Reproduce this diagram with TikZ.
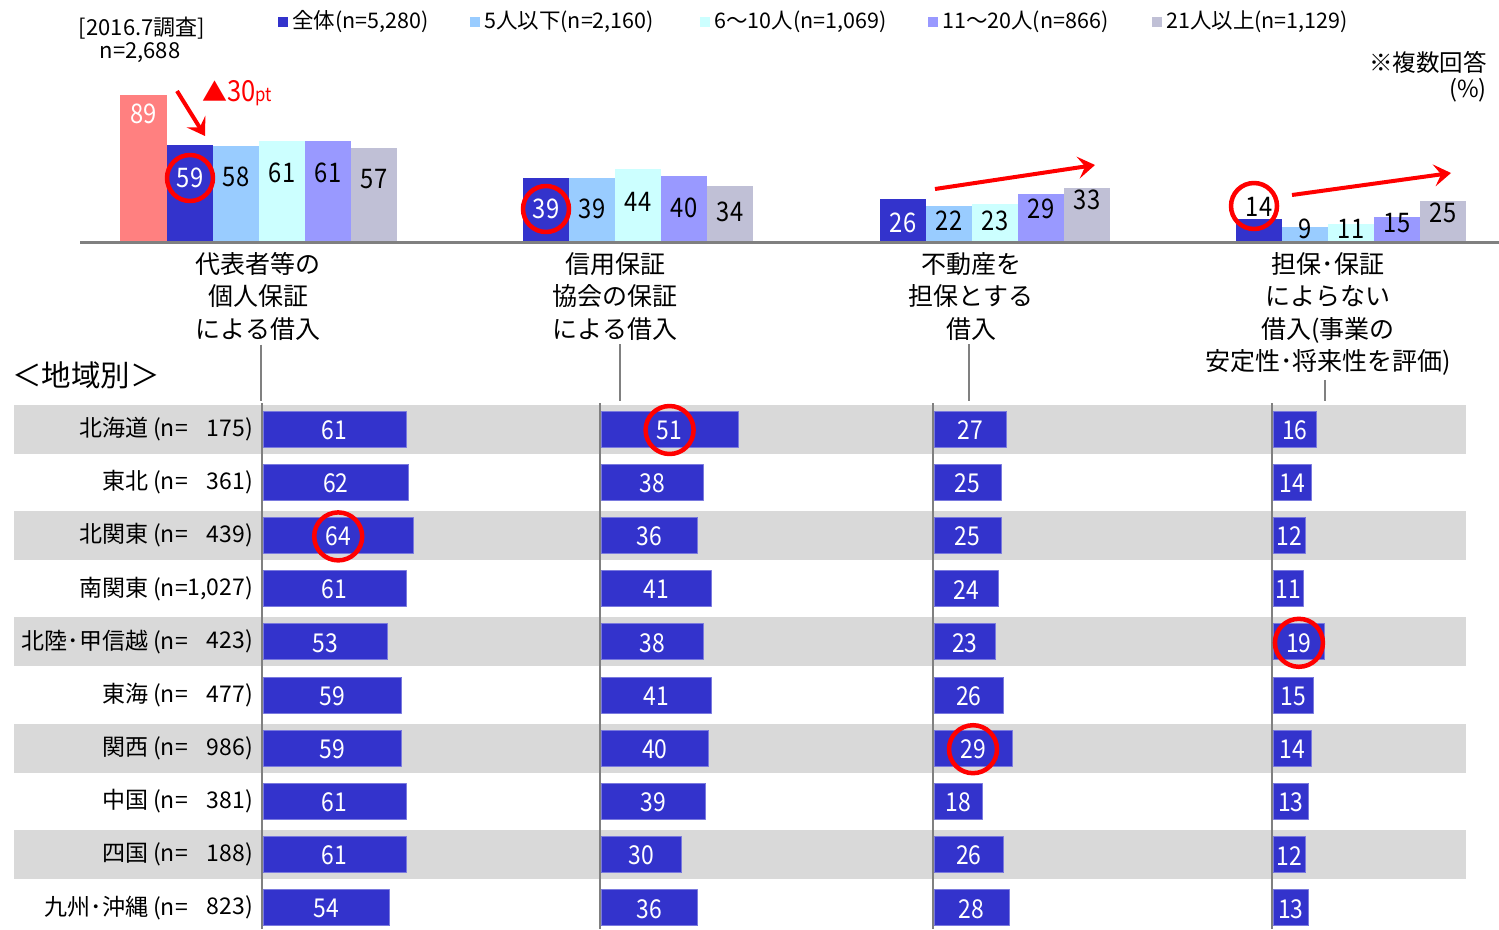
\documentclass[tikz,border=0pt]{standalone}
\usepackage{fontspec}
\setmainfont{Noto Sans CJK JP}
\newfontfamily\numfont[FakeStretch=0.88]{Noto Sans CJK JP}
\usetikzlibrary{arrows.meta}
\definecolor{bar0}{RGB}{51,51,204}
\definecolor{bar1}{RGB}{153,204,255}
\definecolor{bar2}{RGB}{204,255,255}
\definecolor{bar3}{RGB}{153,153,255}
\definecolor{bar4}{RGB}{192,192,214}
\definecolor{oldbar}{RGB}{255,128,128}
\definecolor{bandgray}{RGB}{217,217,217}
\definecolor{axisgray}{RGB}{128,128,128}
\tikzset{
  val/.style={inner sep=0pt, font=\numfont\fontsize{27}{27}\selectfont},
  num/.style={inner sep=0pt, text=white, font=\numfont\fontsize{26}{26}\selectfont},
  reg/.style={inner sep=0pt, anchor=east, font=\fontsize{23}{23}\selectfont},
  cat/.style={inner sep=0pt, anchor=north, align=center, font=\fontsize{25}{32.5}\selectfont},
  legtext/.style={inner sep=0pt, anchor=west, font=\fontsize{21.5}{21.5}\selectfont},
  hbar/.style={fill=bar0, draw=bar0!65!white, line width=1pt},
  band/.style={fill=bandgray},
  axis/.style={draw=axisgray, line width=2pt},
  ring/.style={draw=red, line width=4.5pt},
  trend/.style={draw=red, line width=4pt, -{Stealth[length=17pt, width=22pt, inset=7pt]}}
}
\begin{document}
\begin{tikzpicture}[x=1pt, y=-1pt, line join=round, font=\fontsize{22}{22}\selectfont]
\useasboundingbox (0,0) rectangle (1499,929);

\foreach \c/\x/\t [count=\i] in {bar0/278/{全体(n=5,280)}, bar1/470/{5人以下(n=2,160)},
    bar2/700/{6〜10人(n=1,069)}, bar3/928/{11〜20人(n=866)}, bar4/1152/{21人以上(n=1,129)}}{
  \fill[\c] (\x,17) rectangle ++(10,10);
  \node[legtext] (leg\i) at (\x+14,22) {\t};
}
\node[inner sep=0pt] (survey) at (142,28) {[2016.7調査]};
\node[inner sep=0pt] (surveyn) at (140,53) {n=2,688};
\node[inner sep=0pt, anchor=east, font=\fontsize{23.5}{23.5}\selectfont] (multi) at (1487,62) {※複数回答};
\node[inner sep=0pt, anchor=east, font=\fontsize{23.5}{23.5}\selectfont] (pct) at (1487,90) {(\%)};

\fill[oldbar] (120,242) rectangle (167,242-1.65*89);
\node[val, text=white] (old) at (143.5,114) {89};
\foreach \g/\gx/\fc/\vals in {1/167/white/{59/178,58/177,61/173,61/173,57/179},
    2/523/white/{39/209,39/209,44/202,40/208,34/212},
    3/880/white/{26/223,22/221,23/221,29/209,33/200},
    4/1236/black/{14/207,9/229,11/229,15/223,25/213}}{
  \foreach \v/\ly [count=\i from 0] in \vals {
    \ifnum\i=0 \def\tc{\fc}\else\def\tc{black}\fi
    \fill[bar\i] (\gx+46*\i,242) rectangle (\gx+46*\i+46,242-1.65*\v);
    \node[val, text=\tc] (t\g-\i) at (\gx+46*\i+23,\ly) {\v};
  }
}
\draw[axisgray, line width=3pt] (80,242) -- (1499,242);
\draw[ring] (t1-0) circle[radius=23pt] (t2-0) circle[radius=23pt];
\draw[ring] (1254,206) circle[radius=23pt];

\path
  (177,91) coordinate (d1) (205,136) coordinate (d2)
  (935,189) coordinate (u1) (1095,165) coordinate (u2)
  (1292,195) coordinate (v1) (1451,173) coordinate (v2);
\draw[trend] (d1) -- (d2);
\draw[trend] (u1) -- (u2);
\draw[trend] (v1) -- (v2);
\node[inner sep=0pt, anchor=west, text=red] (drop) at (202,93)
  {\fontsize{25}{25}\selectfont ▲\numfont\fontsize{29}{29}\selectfont 30\fontsize{19}{19}\selectfont pt};

\foreach \x/\t [count=\i] in {258/{代表者等の\\個人保証\\による借入}, 615/{信用保証\\協会の保証\\による借入},
    971/{不動産を\\担保とする\\借入}, 1328/{担保･保証\\によらない\\借入(事業の\\安定性･将来性を評価)}}{
  \node[cat] (cat\i) at (\x,252) {\t};
}
\coordinate (rowtop) at (0,401);
\foreach \i/\dx in {1/3,2/5,3/-2,4/-3}{
  \draw[axis] ([xshift=\dx pt, yshift=-4pt]cat\i.south) -- ([xshift=\dx pt]cat\i.south |- rowtop);
}
\node[inner sep=0pt, anchor=west, font=\fontsize{29.5}{29.5}\selectfont] (area) at (12,375) {＜地域別＞};

\foreach \n/\c [count=\r from 0] in {北海道/175, 東北/361, 北関東/439, 南関東/{1,027}, 北陸･甲信越/423,
    東海/477, 関西/986, 中国/381, 四国/188, 九州･沖縄/823}{
  \pgfmathsetmacro\ry{429+53.2*\r}
  \ifodd\r\else\fill[band] (14,\ry-24.5) rectangle (1466,\ry+24.5);\fi
  \node[reg] (r\r) at (188,\ry) {\n\hspace{5pt}(n=};
  \node[reg] (rn\r) at (253,\ry) {\c)};
}
\foreach \x in {262,600,933,1272}{
  \draw[axis] (\x,403) -- (\x,929);
}
\foreach \g/\bx/\k/\vals in {1/263/2.35/{61,62,64,61,53,59,59,61,61,54},
    2/601/2.69/{51,38,36,41,38,41,40,39,30,36},
    3/934/2.69/{27,25,25,24,23,26,29,18,26,28},
    4/1273/2.73/{16,14,12,11,19,15,14,13,12,13}}{
  \foreach \v [count=\r from 0] in \vals {
    \pgfmathsetmacro\ry{429+53.2*\r}
    \fill[hbar] (\bx,\ry-18) rectangle (\bx+\k*\v,\ry+18);
    \node[num] (b\g-\r) at (\bx+\k*\v/2,\ry+1) {\v};
  }
}
\draw[ring] (b1-2) circle[radius=24pt] (b2-0) circle[radius=24pt]
  (b3-6) circle[radius=24pt] (b4-4) circle[radius=24pt];
\end{tikzpicture}
\end{document}
